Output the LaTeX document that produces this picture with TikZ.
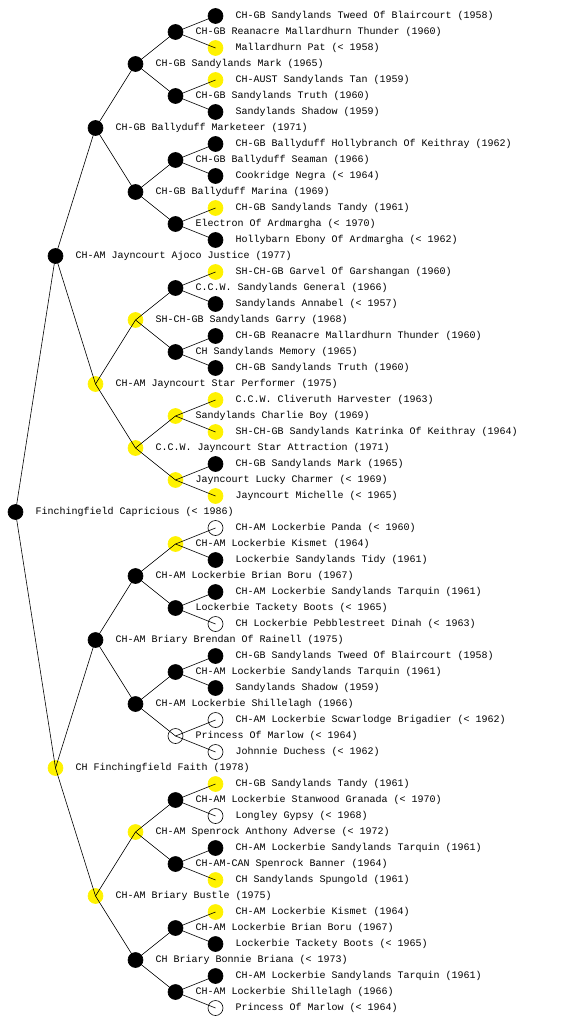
\documentclass[tikz,border=0pt]{standalone}
\usepackage{fontspec}
\setmonofont{Liberation Mono}
\usetikzlibrary{positioning}
\begin{document}
\begin{tikzpicture}[
  x=1pt, y=-1pt,
  every node/.style={font=\ttfamily\fontsize{10}{12}\selectfont},
  dot/.style={circle, minimum size=15pt, inner sep=0pt, line width=0.6pt},
  blk/.style={dot, draw=black, fill=black},
  yel/.style={dot, draw=yellow, fill=yellow},
  wht/.style={dot, draw=black, fill=white},
  lab/.style={anchor=west, inner sep=0pt},
  link/.style={line width=0.6pt}]

\useasboundingbox (0,0) rectangle (560,1024);

\node[blk] (p)  at (15.5,512) {};

\node[blk] (s)  at (55.5,256) {};
\node[yel] (d)  at (55.5,768) {};

\node[blk] (ss) at (95.5,128) {};
\node[yel] (sd) at (95.5,384) {};
\node[blk] (ds) at (95.5,640) {};
\node[yel] (dd) at (95.5,896) {};

\node[blk] (sss) at (135.5,64)  {};
\node[blk] (ssd) at (135.5,192) {};
\node[yel] (sds) at (135.5,320) {};
\node[yel] (sdd) at (135.5,448) {};
\node[blk] (dss) at (135.5,576) {};
\node[blk] (dsd) at (135.5,704) {};
\node[yel] (dds) at (135.5,832) {};
\node[blk] (ddd) at (135.5,960) {};

\node[blk] (ssss) at (175.5,32)  {};
\node[blk] (sssd) at (175.5,96)  {};
\node[blk] (ssds) at (175.5,160) {};
\node[blk] (ssdd) at (175.5,224) {};
\node[blk] (sdss) at (175.5,288) {};
\node[blk] (sdsd) at (175.5,352) {};
\node[yel] (sdds) at (175.5,416) {};
\node[yel] (sddd) at (175.5,480) {};
\node[yel] (dsss) at (175.5,544) {};
\node[blk] (dssd) at (175.5,608) {};
\node[blk] (dsds) at (175.5,672) {};
\node[wht] (dsdd) at (175.5,736) {};
\node[blk] (ddss) at (175.5,800) {};
\node[blk] (ddsd) at (175.5,864) {};
\node[blk] (ddds) at (175.5,928) {};
\node[blk] (dddd) at (175.5,992) {};

\node[blk] (sssss) at (215.5,16)   {};
\node[yel] (ssssd) at (215.5,48)   {};
\node[yel] (sssds) at (215.5,80)   {};
\node[blk] (sssdd) at (215.5,112)  {};
\node[blk] (ssdss) at (215.5,144)  {};
\node[blk] (ssdsd) at (215.5,176)  {};
\node[yel] (ssdds) at (215.5,208)  {};
\node[blk] (ssddd) at (215.5,240)  {};
\node[yel] (sdsss) at (215.5,272)  {};
\node[blk] (sdssd) at (215.5,304)  {};
\node[blk] (sdsds) at (215.5,336)  {};
\node[blk] (sdsdd) at (215.5,368)  {};
\node[yel] (sddss) at (215.5,400)  {};
\node[yel] (sddsd) at (215.5,432)  {};
\node[blk] (sddds) at (215.5,464)  {};
\node[yel] (sdddd) at (215.5,496)  {};
\node[wht] (dssss) at (215.5,528)  {};
\node[blk] (dsssd) at (215.5,560)  {};
\node[blk] (dssds) at (215.5,592)  {};
\node[wht] (dssdd) at (215.5,624)  {};
\node[blk] (dsdss) at (215.5,656)  {};
\node[blk] (dsdsd) at (215.5,688)  {};
\node[wht] (dsdds) at (215.5,720)  {};
\node[wht] (dsddd) at (215.5,752)  {};
\node[yel] (ddsss) at (215.5,784)  {};
\node[wht] (ddssd) at (215.5,816)  {};
\node[blk] (ddsds) at (215.5,848)  {};
\node[yel] (ddsdd) at (215.5,880)  {};
\node[yel] (dddss) at (215.5,912)  {};
\node[blk] (dddsd) at (215.5,944)  {};
\node[blk] (dddds) at (215.5,976)  {};
\node[wht] (ddddd) at (215.5,1008) {};

\node[lab, right=12pt of p] (t-p) {Finchingfield Capricious (< 1986)};

\node[lab, right=12pt of s] (t-s) {CH-AM Jayncourt Ajoco Justice (1977)};
\node[lab, right=12pt of d] (t-d) {CH Finchingfield Faith (1978)};

\node[lab, right=12pt of ss] (t-ss) {CH-GB Ballyduff Marketeer (1971)};
\node[lab, right=12pt of sd] (t-sd) {CH-AM Jayncourt Star Performer (1975)};
\node[lab, right=12pt of ds] (t-ds) {CH-AM Briary Brendan Of Rainell (1975)};
\node[lab, right=12pt of dd] (t-dd) {CH-AM Briary Bustle (1975)};

\node[lab, right=12pt of sss] (t-sss) {CH-GB Sandylands Mark (1965)};
\node[lab, right=12pt of ssd] (t-ssd) {CH-GB Ballyduff Marina (1969)};
\node[lab, right=12pt of sds] (t-sds) {SH-CH-GB Sandylands Garry (1968)};
\node[lab, right=12pt of sdd] (t-sdd) {C.C.W. Jayncourt Star Attraction (1971)};
\node[lab, right=12pt of dss] (t-dss) {CH-AM Lockerbie Brian Boru (1967)};
\node[lab, right=12pt of dsd] (t-dsd) {CH-AM Lockerbie Shillelagh (1966)};
\node[lab, right=12pt of dds] (t-dds) {CH-AM Spenrock Anthony Adverse (< 1972)};
\node[lab, right=12pt of ddd] (t-ddd) {CH Briary Bonnie Briana (< 1973)};

\node[lab, right=12pt of ssss] (t-ssss) {CH-GB Reanacre Mallardhurn Thunder (1960)};
\node[lab, right=12pt of sssd] (t-sssd) {CH-GB Sandylands Truth (1960)};
\node[lab, right=12pt of ssds] (t-ssds) {CH-GB Ballyduff Seaman (1966)};
\node[lab, right=12pt of ssdd] (t-ssdd) {Electron Of Ardmargha (< 1970)};
\node[lab, right=12pt of sdss] (t-sdss) {C.C.W. Sandylands General (1966)};
\node[lab, right=12pt of sdsd] (t-sdsd) {CH Sandylands Memory (1965)};
\node[lab, right=12pt of sdds] (t-sdds) {Sandylands Charlie Boy (1969)};
\node[lab, right=12pt of sddd] (t-sddd) {Jayncourt Lucky Charmer (< 1969)};
\node[lab, right=12pt of dsss] (t-dsss) {CH-AM Lockerbie Kismet (1964)};
\node[lab, right=12pt of dssd] (t-dssd) {Lockerbie Tackety Boots (< 1965)};
\node[lab, right=12pt of dsds] (t-dsds) {CH-AM Lockerbie Sandylands Tarquin (1961)};
\node[lab, right=12pt of dsdd] (t-dsdd) {Princess Of Marlow (< 1964)};
\node[lab, right=12pt of ddss] (t-ddss) {CH-AM Lockerbie Stanwood Granada (< 1970)};
\node[lab, right=12pt of ddsd] (t-ddsd) {CH-AM-CAN Spenrock Banner (1964)};
\node[lab, right=12pt of ddds] (t-ddds) {CH-AM Lockerbie Brian Boru (1967)};
\node[lab, right=12pt of dddd] (t-dddd) {CH-AM Lockerbie Shillelagh (1966)};

\node[lab, right=12pt of sssss] (t-sssss) {CH-GB Sandylands Tweed Of Blaircourt (1958)};
\node[lab, right=12pt of ssssd] (t-ssssd) {Mallardhurn Pat (< 1958)};
\node[lab, right=12pt of sssds] (t-sssds) {CH-AUST Sandylands Tan (1959)};
\node[lab, right=12pt of sssdd] (t-sssdd) {Sandylands Shadow (1959)};
\node[lab, right=12pt of ssdss] (t-ssdss) {CH-GB Ballyduff Hollybranch Of Keithray (1962)};
\node[lab, right=12pt of ssdsd] (t-ssdsd) {Cookridge Negra (< 1964)};
\node[lab, right=12pt of ssdds] (t-ssdds) {CH-GB Sandylands Tandy (1961)};
\node[lab, right=12pt of ssddd] (t-ssddd) {Hollybarn Ebony Of Ardmargha (< 1962)};
\node[lab, right=12pt of sdsss] (t-sdsss) {SH-CH-GB Garvel Of Garshangan (1960)};
\node[lab, right=12pt of sdssd] (t-sdssd) {Sandylands Annabel (< 1957)};
\node[lab, right=12pt of sdsds] (t-sdsds) {CH-GB Reanacre Mallardhurn Thunder (1960)};
\node[lab, right=12pt of sdsdd] (t-sdsdd) {CH-GB Sandylands Truth (1960)};
\node[lab, right=12pt of sddss] (t-sddss) {C.C.W. Cliveruth Harvester (1963)};
\node[lab, right=12pt of sddsd] (t-sddsd) {SH-CH-GB Sandylands Katrinka Of Keithray (1964)};
\node[lab, right=12pt of sddds] (t-sddds) {CH-GB Sandylands Mark (1965)};
\node[lab, right=12pt of sdddd] (t-sdddd) {Jayncourt Michelle (< 1965)};
\node[lab, right=12pt of dssss] (t-dssss) {CH-AM Lockerbie Panda (< 1960)};
\node[lab, right=12pt of dsssd] (t-dsssd) {Lockerbie Sandylands Tidy (1961)};
\node[lab, right=12pt of dssds] (t-dssds) {CH-AM Lockerbie Sandylands Tarquin (1961)};
\node[lab, right=12pt of dssdd] (t-dssdd) {CH Lockerbie Pebblestreet Dinah (< 1963)};
\node[lab, right=12pt of dsdss] (t-dsdss) {CH-GB Sandylands Tweed Of Blaircourt (1958)};
\node[lab, right=12pt of dsdsd] (t-dsdsd) {Sandylands Shadow (1959)};
\node[lab, right=12pt of dsdds] (t-dsdds) {CH-AM Lockerbie Scwarlodge Brigadier (< 1962)};
\node[lab, right=12pt of dsddd] (t-dsddd) {Johnnie Duchess (< 1962)};
\node[lab, right=12pt of ddsss] (t-ddsss) {CH-GB Sandylands Tandy (1961)};
\node[lab, right=12pt of ddssd] (t-ddssd) {Longley Gypsy (< 1968)};
\node[lab, right=12pt of ddsds] (t-ddsds) {CH-AM Lockerbie Sandylands Tarquin (1961)};
\node[lab, right=12pt of ddsdd] (t-ddsdd) {CH Sandylands Spungold (1961)};
\node[lab, right=12pt of dddss] (t-dddss) {CH-AM Lockerbie Kismet (1964)};
\node[lab, right=12pt of dddsd] (t-dddsd) {Lockerbie Tackety Boots (< 1965)};
\node[lab, right=12pt of dddds] (t-dddds) {CH-AM Lockerbie Sandylands Tarquin (1961)};
\node[lab, right=12pt of ddddd] (t-ddddd) {Princess Of Marlow (< 1964)};

\draw[link] (p.center) -- (s.center);
\draw[link] (p.center) -- (d.center);

\draw[link] (s.center) -- (ss.center);
\draw[link] (s.center) -- (sd.center);
\draw[link] (d.center) -- (ds.center);
\draw[link] (d.center) -- (dd.center);

\draw[link] (ss.center) -- (sss.center);
\draw[link] (ss.center) -- (ssd.center);
\draw[link] (sd.center) -- (sds.center);
\draw[link] (sd.center) -- (sdd.center);
\draw[link] (ds.center) -- (dss.center);
\draw[link] (ds.center) -- (dsd.center);
\draw[link] (dd.center) -- (dds.center);
\draw[link] (dd.center) -- (ddd.center);

\draw[link] (sss.center) -- (ssss.center);
\draw[link] (sss.center) -- (sssd.center);
\draw[link] (ssd.center) -- (ssds.center);
\draw[link] (ssd.center) -- (ssdd.center);
\draw[link] (sds.center) -- (sdss.center);
\draw[link] (sds.center) -- (sdsd.center);
\draw[link] (sdd.center) -- (sdds.center);
\draw[link] (sdd.center) -- (sddd.center);
\draw[link] (dss.center) -- (dsss.center);
\draw[link] (dss.center) -- (dssd.center);
\draw[link] (dsd.center) -- (dsds.center);
\draw[link] (dsd.center) -- (dsdd.center);
\draw[link] (dds.center) -- (ddss.center);
\draw[link] (dds.center) -- (ddsd.center);
\draw[link] (ddd.center) -- (ddds.center);
\draw[link] (ddd.center) -- (dddd.center);

\draw[link] (ssss.center) -- (sssss.center);
\draw[link] (ssss.center) -- (ssssd.center);
\draw[link] (sssd.center) -- (sssds.center);
\draw[link] (sssd.center) -- (sssdd.center);
\draw[link] (ssds.center) -- (ssdss.center);
\draw[link] (ssds.center) -- (ssdsd.center);
\draw[link] (ssdd.center) -- (ssdds.center);
\draw[link] (ssdd.center) -- (ssddd.center);
\draw[link] (sdss.center) -- (sdsss.center);
\draw[link] (sdss.center) -- (sdssd.center);
\draw[link] (sdsd.center) -- (sdsds.center);
\draw[link] (sdsd.center) -- (sdsdd.center);
\draw[link] (sdds.center) -- (sddss.center);
\draw[link] (sdds.center) -- (sddsd.center);
\draw[link] (sddd.center) -- (sddds.center);
\draw[link] (sddd.center) -- (sdddd.center);
\draw[link] (dsss.center) -- (dssss.center);
\draw[link] (dsss.center) -- (dsssd.center);
\draw[link] (dssd.center) -- (dssds.center);
\draw[link] (dssd.center) -- (dssdd.center);
\draw[link] (dsds.center) -- (dsdss.center);
\draw[link] (dsds.center) -- (dsdsd.center);
\draw[link] (dsdd.center) -- (dsdds.center);
\draw[link] (dsdd.center) -- (dsddd.center);
\draw[link] (ddss.center) -- (ddsss.center);
\draw[link] (ddss.center) -- (ddssd.center);
\draw[link] (ddsd.center) -- (ddsds.center);
\draw[link] (ddsd.center) -- (ddsdd.center);
\draw[link] (ddds.center) -- (dddss.center);
\draw[link] (ddds.center) -- (dddsd.center);
\draw[link] (dddd.center) -- (dddds.center);
\draw[link] (dddd.center) -- (ddddd.center);
\end{tikzpicture}
\end{document}
